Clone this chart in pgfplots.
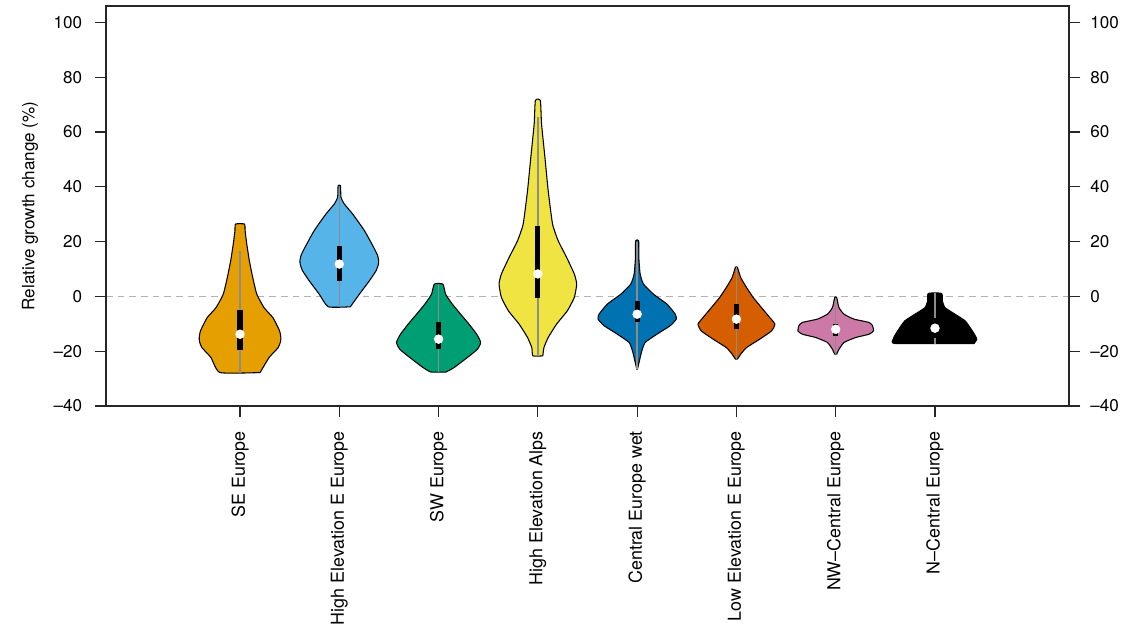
\documentclass[border=0pt]{standalone}
\usepackage{fontspec}
\setmainfont{TeX Gyre Heros}
\usepackage{pgfplots}
\usepackage{pgfplotstable}
\pgfplotsset{compat=1.18}

\definecolor{cA}{HTML}{E69F00}
\definecolor{cB}{HTML}{56B4E9}
\definecolor{cC}{HTML}{009E73}
\definecolor{cD}{HTML}{F0E442}
\definecolor{cE}{HTML}{0072B2}
\definecolor{cF}{HTML}{D55E00}
\definecolor{cG}{HTML}{CC79A7}
\definecolor{cH}{HTML}{000000}
\definecolor{wgray}{HTML}{8C8C8C}

% violin outlines: y value, half width in x units (right side upward, left side downward)
\pgfplotstableread[row sep=\\]{y w\\
-27.8 0.202\\ -22.3 0.293\\ -18.7 0.384\\ -16.5 0.408\\ -15.0 0.411\\ -13.0 0.402\\ -11.4 0.384\\ -7.7 0.330\\ -4.1 0.242\\ 0.8 0.169\\ 6.9 0.128\\ 13.0 0.094\\ 19.1 0.068\\ 24.0 0.051\\ 26.4 0.045\\
26.4 -0.045\\ 24.0 -0.051\\ 19.1 -0.068\\ 13.0 -0.094\\ 6.9 -0.128\\ 0.8 -0.169\\ -4.1 -0.242\\ -7.7 -0.330\\ -11.4 -0.384\\ -13.0 -0.402\\ -15.0 -0.411\\ -16.5 -0.408\\ -18.7 -0.384\\ -22.3 -0.293\\ -27.8 -0.202\\ -27.8 0.202\\
}\vA
\pgfplotstableread[row sep=\\]{y w\\
-3.8 0.111\\ 0.8 0.202\\ 5.7 0.303\\ 9.4 0.371\\ 11.5 0.392\\ 13.0 0.397\\ 15.0 0.385\\ 17.9 0.346\\ 24.0 0.253\\ 30.1 0.134\\ 33.7 0.051\\ 36.2 0.017\\ 40.4 0.012\\
40.4 -0.012\\ 36.2 -0.017\\ 33.7 -0.051\\ 30.1 -0.134\\ 24.0 -0.253\\ 17.9 -0.346\\ 15.0 -0.385\\ 13.0 -0.397\\ 11.5 -0.392\\ 9.4 -0.371\\ 5.7 -0.303\\ 0.8 -0.202\\ -3.8 -0.111\\ -3.8 0.111\\
}\vB
\pgfplotstableread[row sep=\\]{y w\\
-27.6 0.076\\ -26.0 0.155\\ -22.3 0.290\\ -19.3 0.391\\ -16.8 0.424\\ -13.8 0.384\\ -10.1 0.306\\ -6.5 0.222\\ -2.8 0.138\\ 0.8 0.071\\ 4.5 0.043\\
4.5 -0.043\\ 0.8 -0.071\\ -2.8 -0.138\\ -6.5 -0.222\\ -10.1 -0.306\\ -13.8 -0.384\\ -16.8 -0.424\\ -19.3 -0.391\\ -22.3 -0.290\\ -26.0 -0.155\\ -27.6 -0.076\\ -27.6 0.076\\
}\vC
\pgfplotstableread[row sep=\\]{y w\\
-21.7 0.050\\ -18.7 0.061\\ -15.0 0.104\\ -10.1 0.189\\ -5.3 0.296\\ -0.4 0.367\\ 4.5 0.391\\ 8.2 0.367\\ 14.2 0.290\\ 20.3 0.205\\ 26.4 0.148\\ 38.6 0.104\\ 50.8 0.071\\ 63.0 0.037\\ 71.5 0.025\\
71.5 -0.025\\ 63.0 -0.037\\ 50.8 -0.071\\ 38.6 -0.104\\ 26.4 -0.148\\ 20.3 -0.205\\ 14.2 -0.290\\ 8.2 -0.367\\ 4.5 -0.391\\ -0.4 -0.367\\ -5.3 -0.296\\ -10.1 -0.189\\ -15.0 -0.104\\ -18.7 -0.061\\ -21.7 -0.050\\ -21.7 0.050\\
}\vD
\pgfplotstableread[row sep=\\]{y w\\
-26.6 0.003\\ -23.5 0.023\\ -19.9 0.047\\ -16.8 0.081\\ -13.8 0.199\\ -10.7 0.333\\ -8.3 0.394\\ -6.5 0.384\\ -2.8 0.300\\ 0.8 0.165\\ 4.5 0.064\\ 8.2 0.030\\ 14.2 0.017\\ 20.3 0.015\\
20.3 -0.015\\ 14.2 -0.017\\ 8.2 -0.030\\ 4.5 -0.064\\ 0.8 -0.165\\ -2.8 -0.300\\ -6.5 -0.384\\ -8.3 -0.394\\ -10.7 -0.333\\ -13.8 -0.199\\ -16.8 -0.081\\ -19.9 -0.047\\ -23.5 -0.023\\ -26.6 -0.003\\ -26.6 0.003\\
}\vE
\pgfplotstableread[row sep=\\]{y w\\
-22.9 0.010\\ -21.1 0.043\\ -18.7 0.101\\ -15.6 0.235\\ -12.6 0.354\\ -10.1 0.387\\ -7.7 0.336\\ -4.1 0.253\\ -0.4 0.169\\ 3.3 0.101\\ 6.9 0.043\\ 10.6 0.010\\
10.6 -0.010\\ 6.9 -0.043\\ 3.3 -0.101\\ -0.4 -0.169\\ -4.1 -0.253\\ -7.7 -0.336\\ -10.1 -0.387\\ -12.6 -0.354\\ -15.6 -0.235\\ -18.7 -0.101\\ -21.1 -0.043\\ -22.9 -0.010\\ -22.9 0.010\\
}\vF
\pgfplotstableread[row sep=\\]{y w\\
-21.1 0.010\\ -19.3 0.033\\ -16.8 0.084\\ -15.0 0.202\\ -13.8 0.336\\ -12.6 0.381\\ -10.7 0.371\\ -9.5 0.336\\ -8.3 0.185\\ -6.5 0.084\\ -4.1 0.033\\ -0.4 0.010\\
-0.4 -0.010\\ -4.1 -0.033\\ -6.5 -0.084\\ -8.3 -0.185\\ -9.5 -0.336\\ -10.7 -0.371\\ -12.6 -0.381\\ -13.8 -0.336\\ -15.0 -0.202\\ -16.8 -0.084\\ -19.3 -0.033\\ -21.1 -0.010\\ -21.1 0.010\\
}\vG
\pgfplotstableread[row sep=\\]{y w\\
-17.2 0.394\\ -15.6 0.421\\ -13.8 0.397\\ -11.4 0.354\\ -8.9 0.303\\ -6.5 0.202\\ -4.1 0.101\\ -1.6 0.074\\ 1.1 0.067\\
1.1 -0.067\\ -1.6 -0.074\\ -4.1 -0.101\\ -6.5 -0.202\\ -8.9 -0.303\\ -11.4 -0.354\\ -13.8 -0.397\\ -15.6 -0.421\\ -17.2 -0.394\\ -17.2 0.394\\
}\vH

% medians
\pgfplotstableread[row sep=\\]{x med\\
1 -13.8\\ 2 11.8\\ 3 -15.6\\ 4 8.2\\ 5 -6.5\\ 6 -8.3\\ 7 -12.0\\ 8 -11.6\\
}\meds

\newcommand{\violinplot}[3]{%
  \addplot[fill=#3, draw=black, line width=0.8pt, line join=round, smooth, tension=0.3] table[x expr=#1+\thisrow{w}, y=y] {#2};
}
% pos, whisker low, whisker high, q1, q3
\newcommand{\violinstat}[5]{%
  \addplot[wgray, line width=1.1pt] coordinates {(#1,#2) (#1,#3)};
  \addplot[black, line width=3.8pt] coordinates {(#1,#4) (#1,#5)};
}

\begin{document}
\fontsize{12.8}{15}\selectfont
\begin{tikzpicture}
\path[use as bounding box] (0,0) rectangle (861pt,472.5pt);
\begin{axis}[
  at={(79.5pt,168pt)}, anchor=south west,
  scale only axis, width=722.25pt, height=300pt,
  xmin=-0.35, xmax=9.35, ymin=-40, ymax=106,
  axis line style={line width=0.9pt, black!85},
  tick align=outside, major tick length=8.5pt,
  tick style={line width=0.9pt, black!85},
  xtick={1,2,3,4,5,6,7,8},
  xticklabels={SE Europe, High Elevation E Europe, SW Europe, High Elevation Alps, Central Europe wet, Low Elevation E Europe, NW--Central Europe, N--Central Europe},
  xticklabel style={yshift=-6pt, rotate=90, anchor=east, font=\fontsize{13.4}{15}\selectfont},
  xtick pos=bottom,
  ytick={-40,-20,0,20,40,60,80,100},
  yticklabels={--40,--20,0,20,40,60,80,100},
  ytick pos=left,
  yticklabel style={xshift=-5pt, font=\fontsize{12.8}{15}\selectfont},
  ylabel={Relative growth change (\%)},
  ylabel style={font=\fontsize{12.5}{15}\selectfont},
  every axis y label/.style={at={(axis description cs:-0.0789,0.5)}, rotate=90, anchor=center},
]
\addplot[color=black!30, line width=0.8pt, dash pattern=on 5pt off 3.75pt] coordinates {(-0.35,0) (9.35,0)};
\violinplot{1}{\vA}{cA}
\violinplot{2}{\vB}{cB}
\violinplot{3}{\vC}{cC}
\violinplot{4}{\vD}{cD}
\violinplot{5}{\vE}{cE}
\violinplot{6}{\vF}{cF}
\violinplot{7}{\vG}{cG}
\violinplot{8}{\vH}{cH}
\violinstat{1}{-27.8}{16.7}{-19.6}{-5.0}
\violinstat{2}{-3.8}{40.4}{5.7}{18.5}
\violinstat{3}{-27.6}{4.5}{-19.3}{-9.5}
\violinstat{4}{-21.7}{65.4}{-0.4}{25.8}
\violinstat{5}{-26.6}{20.0}{-9.5}{-1.6}
\violinstat{6}{-22.9}{10.6}{-12.0}{-2.8}
\violinstat{7}{-21.1}{-0.4}{-14.5}{-10.0}
\violinstat{8}{-17.2}{1.1}{-15.3}{-8.0}
\addplot[only marks, mark=*, mark size=3.3pt, mark options={fill=white, draw=white}] table[x=x, y=med] {\meds};
\end{axis}
\begin{axis}[
  at={(79.5pt,168pt)}, anchor=south west,
  scale only axis, width=722.25pt, height=300pt,
  xmin=-0.35, xmax=9.35, ymin=-40, ymax=106,
  axis line style={line width=0.9pt, black!85},
  tick align=outside, major tick length=8.5pt,
  tick style={line width=0.9pt, black!85},
  xtick=\empty,
  ytick={-40,-20,0,20,40,60,80,100},
  yticklabels={--40,--20,0,20,40,60,80,100},
  ytick pos=right, yticklabel pos=right,
  yticklabel style={xshift=3pt, font=\fontsize{12.8}{15}\selectfont},
]
\addplot[draw=none] coordinates {(1,0)};
\end{axis}
\end{tikzpicture}
\end{document}
